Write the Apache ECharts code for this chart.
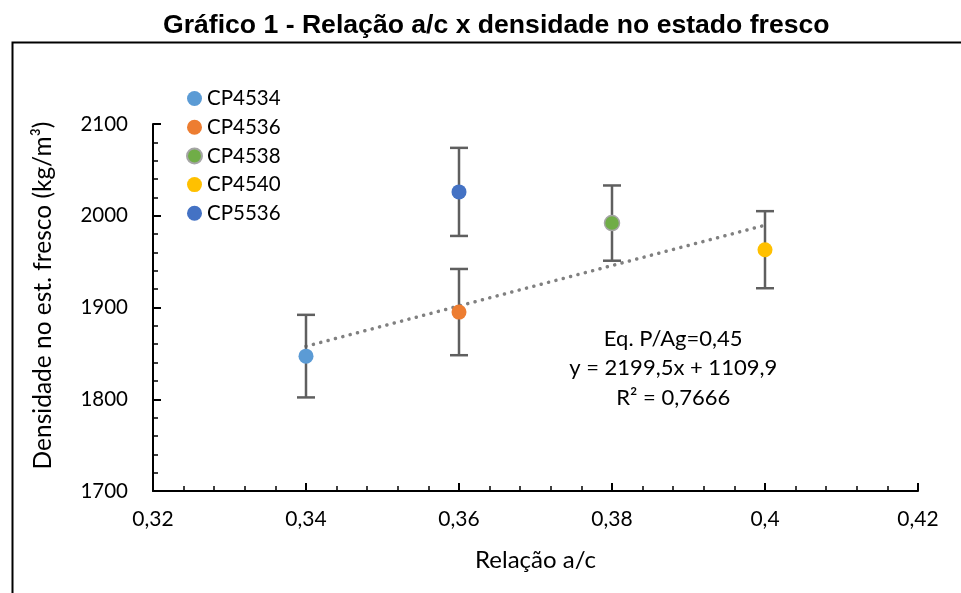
<!DOCTYPE html>
<html><head><meta charset="utf-8">
<script src="https://cdn.jsdelivr.net/npm/echarts@6/dist/echarts.min.js"></script>
<style>html,body{margin:0;padding:0;background:#fff}#c{width:961px;height:593px}</style>
</head><body><div id="c"></div>
<script>
const seriesNames = ['CP4534','CP4536','CP4538','CP4540','CP5536'];
const xValues = [0.34, 0.36, 0.38, 0.40, 0.36];
const yValues = [1847, 1895, 1992, 1963, 2026];
const errValues = [45, 47, 41, 42, 48];
const colors = ['#5B9BD5','#ED7D31','#70AD47','#FFC000','#4472C4'];
const trendX = [0.34, 0.40];
const trendY = [1857.7, 1989.7];
const xTicks = [0.32, 0.34, 0.36, 0.38, 0.40, 0.42];
const yTicks = [1700, 1800, 1900, 2000, 2100];
const eqLines = ['Eq. P/Ag=0,45', 'y = 2199,5x + 1109,9', 'R² = 0,7666'];

const FONT = 'Lato';
const chart = echarts.init(document.getElementById('c'));

const series = [];
series.push({
  type: 'line', name: 'trend', data: trendX.map((x,i)=>[x,trendY[i]]),
  symbol: 'none', silent: true, z: 1,
  lineStyle: { color: '#808080', width: 3.5, type: [0.1, 7.5], cap: 'round' }
});
series.push({
  type: 'custom', name: 'err', z: 2, silent: true,
  data: xValues.map((x,i)=>[x, yValues[i]-errValues[i], yValues[i]+errValues[i]]),
  renderItem: function(params, api){
    const lo = api.coord([api.value(0), api.value(1)]);
    const hi = api.coord([api.value(0), api.value(2)]);
    const w = 9;
    const st = { stroke: '#5f5f5f', lineWidth: 2.5 };
    return { type: 'group', children: [
      { type: 'line', shape: { x1: lo[0], y1: lo[1], x2: hi[0], y2: hi[1] }, style: st },
      { type: 'line', shape: { x1: lo[0]-w, y1: lo[1], x2: lo[0]+w, y2: lo[1] }, style: st },
      { type: 'line', shape: { x1: hi[0]-w, y1: hi[1], x2: hi[0]+w, y2: hi[1] }, style: st }
    ]};
  }
});
seriesNames.forEach((n,i)=>{
  series.push({
    type: 'scatter', name: n, data: [[xValues[i], yValues[i]]], z: 3,
    symbol: 'circle', symbolSize: 15,
    itemStyle: i===2 ? { color: colors[i], borderColor: '#a5a5a5', borderWidth: 1.5, opacity: 1 } : { color: colors[i], opacity: 1 }
  });
});

chart.setOption({
  animation: false,
  title: {
    text: 'Gráfico 1 - Relação a/c x densidade no estado fresco',
    left: 158, top: 7,
    textStyle: { fontFamily: 'Liberation Sans', fontWeight: 'bold', fontSize: 26.6, color: '#000' }
  },
  legend: {
    orient: 'vertical', left: 181, top: 83, itemWidth: 15, itemHeight: 15, itemGap: 7.7,
    icon: 'circle', data: seriesNames,
    textStyle: { fontFamily: FONT, fontSize: 20.5, color: '#000' }
  },
  grid: { left: 153, right: 43, top: 124, bottom: 102 },
  xAxis: {
    type: 'value', min: 0.32, max: 0.42, interval: 0.02,
    name: 'Relação a/c', nameLocation: 'middle', nameGap: 57,
    nameTextStyle: { fontFamily: FONT, fontSize: 24, color: '#000' },
    axisLine: { lineStyle: { color: '#000', width: 2 } },
    axisTick: { inside: true, length: 8, lineStyle: { color: '#000', width: 2 } },
    minorTick: { show: true, splitNumber: 5, length: 5, lineStyle: { color: '#000', width: 1.5 } },
    splitLine: { show: false },
    axisLabel: { margin: 18, fontFamily: FONT, fontSize: 21, color: '#000',
      formatter: v => { const t = xTicks.find(x=>Math.abs(x-v)<1e-9); return String(+(t!==undefined?t:v).toFixed(2)).replace('.', ','); } }
  },
  yAxis: {
    type: 'value', min: yTicks[0], max: yTicks[yTicks.length-1], interval: 100,
    name: 'Densidade no est. fresco (kg/m³)', nameLocation: 'middle', nameGap: 97,
    nameTextStyle: { fontFamily: FONT, fontSize: 24.5, color: '#000', padding: [0,0,0,24] },
    axisLine: { show: true, lineStyle: { color: '#000', width: 2 } },
    axisTick: { show: true, inside: true, length: 8, lineStyle: { color: '#000', width: 2 } },
    minorTick: { show: true, splitNumber: 5, length: 5, lineStyle: { color: '#000', width: 1.5 } },
    splitLine: { show: false },
    axisLabel: { margin: 25, fontFamily: FONT, fontSize: 20.5, color: '#000', formatter: v => String(v) }
  },
  series: series
});

const anchor = chart.convertToPixel({ xAxisIndex: 0, yAxisIndex: 0 }, [0.388, 1870]);
chart.setOption({
  graphic: [
    { type: 'rect', left: 10, top: 40, shape: { width: 1000, height: 600 },
      style: { fill: 'none', stroke: '#000', lineWidth: 2 }, silent: true },
    { type: 'text', x: anchor[0], y: 324, style: {
      text: eqLines.join('\n'), align: 'center', verticalAlign: 'top', lineHeight: 29.5,
      font: '22px ' + FONT, fill: '#000' } }
  ]
});
</script>
</body></html>
